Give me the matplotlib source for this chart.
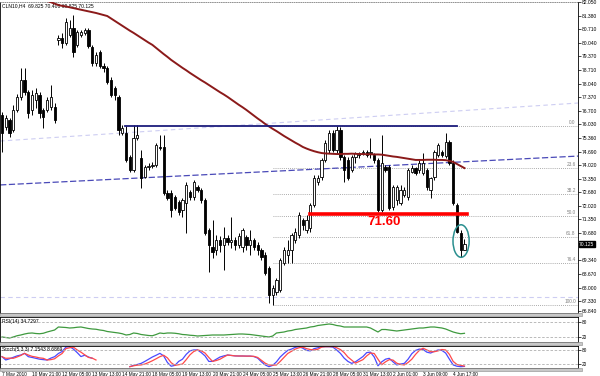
import numpy as np
import matplotlib.pyplot as plt
from matplotlib.patches import Rectangle, Ellipse

plt.rcParams['font.family'] = ['Liberation Sans', 'DejaVu Sans']

# ---- candles (CLN10, H4) ----
o = [76.49, 75.90, 76.25, 75.75, 76.74, 77.38, 78.21, 77.62, 76.74, 77.23,
     77.48, 76.74, 76.74, 76.89, 76.89, 80.18, 80.28, 80.03, 80.43, 80.77,
     79.94, 80.43, 80.53, 80.67, 79.84, 79.05, 79.59, 78.90, 78.80, 78.21,
     77.82, 77.38, 75.61, 75.61, 74.43, 73.79, 75.36, 74.38, 73.44, 73.93,
     73.98, 74.03, 74.92, 74.92, 72.65, 72.65, 72.46, 72.21, 71.82, 72.16,
     72.70, 72.46, 72.95, 72.80, 72.31, 70.83, 70.00, 69.85, 70.34, 70.10,
     70.44, 70.24, 70.34, 70.10, 70.00, 70.49, 70.10, 70.34, 70.10, 69.85,
     69.60, 68.96, 67.64, 67.78, 67.88, 69.21, 69.60, 69.85, 70.34, 70.59,
     71.33, 70.83, 70.93, 72.06, 73.20, 73.44, 74.28, 74.77, 75.61, 74.77,
     75.75, 74.43, 74.28, 73.79, 74.43, 74.52, 74.62, 74.67, 74.62, 74.52,
     74.28, 71.82, 73.93, 73.93, 71.97, 72.31, 72.16, 72.56, 72.46, 73.69,
     73.88, 73.79, 73.64, 73.79, 72.80, 73.44, 74.52, 74.67, 74.47, 75.16,
     74.13, 72.06, 70.69, 69.825]
h = [76.64, 76.49, 76.34, 76.98, 77.53, 78.80, 78.80, 77.72, 77.72, 77.82,
     77.62, 76.84, 77.38, 77.97, 77.08, 80.43, 80.53, 81.26, 81.17, 81.41,
     80.67, 80.67, 80.77, 80.77, 79.94, 79.59, 79.69, 79.05, 78.90, 78.36,
     77.92, 77.48, 76.00, 75.95, 74.52, 76.00, 76.00, 74.77, 74.03, 74.13,
     74.18, 75.11, 75.51, 75.51, 72.80, 72.80, 72.56, 72.31, 72.41, 73.20,
     72.80, 73.29, 73.05, 72.90, 72.41, 70.93, 71.33, 70.59, 70.54, 70.98,
     70.59, 71.47, 70.49, 70.69, 70.93, 70.59, 70.83, 70.44, 70.24, 69.95,
     69.75, 69.06, 68.13, 68.47, 69.46, 70.00, 70.34, 70.69, 70.93, 71.72,
     71.42, 71.57, 72.16, 73.54, 73.54, 74.38, 75.26, 75.75, 75.75, 75.95,
     75.90, 74.52, 74.43, 74.52, 74.67, 74.67, 74.77, 74.77, 75.36, 74.62,
     74.38, 75.51, 74.03, 74.03, 73.05, 73.05, 73.05, 72.95, 73.88, 74.03,
     73.93, 74.28, 74.62, 73.88, 73.44, 74.77, 75.11, 74.77, 75.61, 75.26,
     74.28, 72.16, 70.83, 70.40]
l = [74.67, 75.75, 75.41, 75.66, 76.64, 77.23, 77.48, 76.34, 76.49, 76.84,
     76.34, 75.85, 76.64, 76.74, 76.10, 79.94, 79.79, 79.94, 80.33, 79.35,
     79.84, 80.33, 80.43, 79.79, 78.90, 78.90, 78.80, 78.61, 78.02, 77.38,
     77.23, 75.51, 75.51, 74.18, 73.69, 73.69, 75.26, 72.90, 73.39, 73.79,
     73.88, 73.93, 74.77, 72.56, 72.31, 71.47, 71.82, 71.57, 71.47, 70.69,
     72.31, 72.31, 72.70, 72.16, 70.59, 68.77, 69.46, 69.60, 69.75, 68.87,
     70.10, 69.95, 69.85, 69.95, 69.75, 69.85, 69.60, 69.85, 69.60, 69.36,
     68.62, 67.24, 67.14, 67.64, 67.78, 69.11, 69.21, 69.21, 70.19, 70.44,
     70.83, 70.69, 70.74, 71.97, 73.05, 73.29, 74.18, 74.62, 74.67, 74.62,
     74.28, 73.20, 73.29, 73.69, 74.13, 74.38, 74.52, 74.43, 74.38, 74.13,
     71.72, 71.72, 73.69, 71.82, 71.82, 72.06, 72.06, 72.46, 72.31, 73.64,
     73.54, 73.64, 73.54, 72.80, 72.41, 73.29, 74.43, 74.43, 74.38, 74.03,
     72.06, 70.69, 69.51, 69.825]
c = [75.61, 76.34, 75.61, 76.74, 77.38, 78.21, 77.62, 76.59, 77.48, 77.57,
     76.59, 76.39, 77.23, 77.38, 76.25, 80.28, 80.03, 81.07, 80.77, 79.59,
     80.58, 80.58, 80.67, 79.89, 79.05, 79.44, 78.90, 78.80, 78.12, 77.48,
     77.48, 75.75, 75.85, 74.28, 73.79, 75.36, 75.51, 73.39, 73.93, 73.98,
     74.03, 75.02, 74.87, 72.65, 72.41, 71.82, 71.92, 71.72, 72.31, 73.05,
     72.46, 73.20, 72.80, 72.31, 70.69, 70.10, 69.75, 70.34, 70.10, 70.44,
     70.24, 70.34, 70.10, 70.54, 70.83, 70.10, 70.34, 70.00, 69.85, 69.51,
     68.72, 67.64, 67.98, 68.37, 69.36, 69.85, 69.85, 70.59, 70.74, 71.57,
     71.08, 71.33, 72.06, 73.39, 73.39, 74.28, 75.11, 75.61, 74.77, 75.75,
     74.43, 73.79, 73.39, 74.43, 74.62, 74.62, 74.67, 74.52, 74.67, 74.28,
     71.82, 74.13, 73.79, 71.92, 72.95, 72.95, 72.80, 72.80, 73.79, 73.88,
     73.64, 74.13, 74.13, 72.95, 73.39, 74.67, 75.02, 74.52, 75.16, 74.13,
     72.16, 70.74, 69.825, 70.125]

# moving average as shown on the chart
ma = [82.89, 82.82, 82.75, 82.68, 82.61, 82.54, 82.47, 82.41, 82.34, 82.27,
      82.20, 82.15, 82.10, 82.04, 81.97, 81.90, 81.86, 81.83, 81.79, 81.75,
      81.71, 81.67, 81.63, 81.59, 81.55, 81.51, 81.46, 81.41, 81.36, 81.24,
      81.12, 81.00, 80.88, 80.76, 80.64, 80.53, 80.41, 80.29, 80.17, 80.05,
      79.94, 79.79, 79.64, 79.49, 79.35, 79.20, 79.07, 78.94, 78.81, 78.69,
      78.56, 78.44, 78.32, 78.20, 78.09, 77.97, 77.85, 77.73, 77.61, 77.50,
      77.38, 77.25, 77.12, 76.99, 76.87, 76.74, 76.60, 76.46, 76.32, 76.19,
      76.05, 75.93, 75.81, 75.70, 75.58, 75.46, 75.35, 75.24, 75.13, 75.03,
      74.92, 74.84, 74.77, 74.71, 74.66, 74.62, 74.60, 74.59, 74.58, 74.57,
      74.57, 74.58, 74.58, 74.59, 74.58, 74.57, 74.57, 74.56, 74.56, 74.55,
      74.55, 74.54, 74.51, 74.48, 74.45, 74.43, 74.40, 74.37, 74.34, 74.31,
      74.28, 74.28, 74.28, 74.29, 74.29, 74.29, 74.28, 74.28, 74.27, 74.23,
      74.18, 74.08, 73.98, 73.88]

rsi = [20, 18, 16, 20, 25, 28, 32, 35, 36, 34,
       33, 35, 40, 44, 48, 60, 59, 58, 56, 57,
       59, 60, 57, 54, 52, 51, 48, 46, 42, 40,
       38, 36, 33, 28, 30, 36, 34, 30, 28, 26,
       25, 30, 36, 34, 36, 36, 35, 33, 30, 29,
       27, 26, 24, 25, 26, 27, 28, 28, 28, 28,
       29, 30, 31, 32, 32, 31, 30, 28, 26, 24,
       22, 20, 24, 36, 38, 40, 44, 46, 50, 52,
       54, 56, 60, 62, 66, 68, 70, 72, 70, 66,
       64, 60, 60, 60, 60, 60, 60, 60, 56, 48,
       40, 50, 50, 48, 46, 44, 46, 48, 50, 52,
       54, 56, 56, 58, 60, 60, 58, 56, 52, 46,
       40, 36, 33, 34.73]

nan = np.nan
stoch_k = [51.5, 36.4, 42, 48.5, 55, 59, 66.7, 51.5, 48, 44,
           40, 38, 36.4, 45, 51.5, 66, 75, 95, 97, 86,
           70, 52, 58, 50, 44, nan, nan, nan, nan, nan,
           nan, nan, nan, nan, 6, 12, 16, 21, 30, 40,
           50, 58, 66.7, 55, 25, 8, 12, 30, 40, 62,
           78, 82, 82, 70, 55, 30, 30, 40, 50, 55,
           59, 57, 55, 54.5, 54.5, 54, 54, 52, 45, 28,
           14, 6, 12, 28, 50, 66, 80, 86, 94, 97,
           90, 80, 78, 88, 92, 97, 97, 97, 95, 82,
           66.7, 45, 30, 21, 28, 40, 52, 70, 72, 50,
           10, 28, 40, 44, 28, 14, 18, 21, 40, 65,
           80, 86, 84, 72, 68, 76, 82, 80, 68, 40,
           14, 8, 6, 7.15]
stoch_d = [51.5, 44, 45, 44, 50, 57, 66.7, 59, 53, 50,
           46, 44, 36.4, 38, 42, 55, 66, 88, 92, 95,
           82, 72, 60, 48, 45, 36.4, nan, nan, nan, nan,
           nan, nan, nan, nan, 6, 10, 13, 14, 18, 25,
           33, 42, 51.5, 58, 46, 24, 12, 15, 18, 38,
           60, 75, 82, 78, 68, 48, 30, 34, 40, 50,
           59, 57, 55, 54.5, 54.5, 54, 54, 53, 48, 35,
           22, 13.6, 13, 13.6, 30, 48, 66, 76, 86, 92,
           95, 88, 84, 82, 85, 95, 97, 97, 98, 92,
           84, 70, 50, 36, 22, 30, 38, 55, 68, 66,
           40, 15, 28, 38, 36, 22, 16, 14, 25, 40,
           62, 80, 90, 82, 74, 74, 78, 84, 82, 62,
           30, 16, 12, 8.69]

tick_idx = [0, 8, 16, 24, 32, 40, 48, 56, 64, 72, 80, 88, 96, 104, 112, 120]
tick_labels = ['7 May 2010', '10 May 21:00', '12 May 05:00', '13 May 13:00',
               '14 May 21:00', '18 May 05:00', '19 May 13:00', '20 May 21:00',
               '24 May 05:00', '25 May 13:00', '26 May 21:00', '28 May 05:00',
               '31 May 13:00', '2 Jun 01:00', '3 Jun 09:00', '4 Jun 17:00']
price_ticks = [82.050, 81.380, 80.710, 80.040, 79.370, 78.710, 78.040, 77.370,
               76.700, 76.030, 75.360, 74.690, 74.020, 73.350, 72.680, 72.020,
               71.350, 70.680, 69.340, 68.670, 68.000, 67.330, 66.840]

fib_high, fib_low = 75.95, 67.14
fib_levels = [0.0, 23.6, 38.2, 50.0, 61.8, 76.4, 100.0]
fib_start = 72
resist = (32.7, 121.0, 75.95)        # x0, x1, price
support = (81.9, 123.7, 71.60)
trend_blue = ([-0.5, 153.2], [73.05, 74.47])
trend_faint = ([-0.5, 153.2], [75.21, 77.08])
faint_level = 67.54
last_price = 70.125

W, H = 600, 376
fig = plt.figure(figsize=(6, 3.76), dpi=100)
fig.patch.set_facecolor('white')
xr = 578 / W
x = np.arange(len(c))
xlim = (-0.53, 153.2)
fs = 3.6

ax = fig.add_axes([0, 1 - 313 / H, xr, 311 / H])
ax_rsi = fig.add_axes([0, 1 - 342 / H, xr, 25 / H])
ax_st = fig.add_axes([0, 1 - 368 / H, xr, 22 / H])

# ---- main price window ----
o_, h_, l_, c_ = map(np.array, (o, h, l, c))
up = c_ >= o_
ax.vlines(x, l_, h_, color='black', lw=0.7, zorder=3)
body = np.maximum(np.abs(c_ - o_), 0.02)
ax.bar(x[up], body[up], bottom=o_[up], width=0.6, color='white',
       edgecolor='black', lw=0.6, zorder=4)
ax.bar(x[~up], body[~up], bottom=c_[~up], width=0.6, color='black',
       edgecolor='black', lw=0.6, zorder=4)

ax.plot(x, ma, color='#8b1a1a', lw=1.4, zorder=5)

ax.plot(*trend_blue, color='#4a4ab8', lw=0.9, dashes=(5, 2), zorder=2)
ax.plot(*trend_faint, color='#cdcdf2', lw=0.8, dashes=(4, 3), zorder=1)
ax.axhline(faint_level, color='#cdcdf2', lw=0.8, dashes=(4, 3), zorder=1)

for lv in fib_levels:
    p = fib_high - (fib_high - fib_low) * lv / 100
    ax.plot([fib_start, xlim[1]], [p, p], color='#909090', lw=0.6,
            ls=(0, (1, 1.5)), zorder=1)
    ax.text(152.6, p + 0.05, f'{lv:.1f}', fontsize=3.4, color='#808080',
            ha='right', va='bottom')

ax.plot(resist[:2], [resist[2]] * 2, color='#1c1c7c', lw=1.3, zorder=6)
ax.plot(support[:2], [support[2]] * 2, color='#ff0000', lw=2.6, zorder=6)
ax.text(101.6, 71.22, '71.60', color='#ff0000', fontsize=9.5,
        fontweight='bold', ha='center', va='center', zorder=7)
ax.add_patch(Ellipse((122.1, 70.29), 4.3, 1.6, fill=False,
                     edgecolor='#2a8f8f', lw=1.1, zorder=7))

ax.text(0.004, 0.995, 'CLN10,H4  69.825 70.400 69.825 70.125',
        transform=ax.transAxes, fontsize=fs, va='top', ha='left')

ax.set_xlim(*xlim)
ax.set_ylim(66.75, 82.05)
ax.yaxis.tick_right()
ax.set_yticks(price_ticks)
ax.set_yticklabels([f'{t:.3f}' for t in price_ticks], fontsize=fs)
ax.tick_params(axis='y', length=2, pad=0.8, width=0.5)
ax.set_xticks([])
ax.text(1.002, last_price, f'{last_price:.3f}', transform=ax.get_yaxis_transform(),
        fontsize=fs, color='white', va='center', ha='left',
        bbox=dict(boxstyle='square,pad=0.1', fc='black', ec='black'))

# ---- RSI window ----
ax_rsi.plot(x, rsi, color='#3f9a3f', lw=0.9)
for lv in (80, 20):
    ax_rsi.axhline(lv, color='#b0b0b0', lw=0.6, dashes=(3, 2))
ax_rsi.set_ylim(0, 100)
ax_rsi.set_xlim(*xlim)
ax_rsi.yaxis.tick_right()
ax_rsi.set_yticks([80, 20])
ax_rsi.set_yticklabels(['80', '20'], fontsize=3.4)
ax_rsi.tick_params(axis='y', length=2, pad=0.8, width=0.5)
ax_rsi.set_xticks([])
ax_rsi.text(0.004, 0.93, 'RSI(14) 34.7297', transform=ax_rsi.transAxes,
            fontsize=fs, va='top')

# ---- Stochastic window ----
ax_st.plot(x, stoch_k, color='#4a4aff', lw=0.9)
ax_st.plot(x, stoch_d, color='#ff4a4a', lw=0.9)
for lv in (80, 20):
    ax_st.axhline(lv, color='#b0b0b0', lw=0.6, dashes=(3, 2))
ax_st.set_ylim(0, 100)
ax_st.set_xlim(*xlim)
ax_st.yaxis.tick_right()
ax_st.set_yticks([80, 20])
ax_st.set_yticklabels(['80', '20'], fontsize=3.4)
ax_st.tick_params(axis='y', length=2, pad=0.8, width=0.5)
ax_st.set_xticks(tick_idx)
ax_st.set_xticklabels(tick_labels, fontsize=3.4, ha='left')
ax_st.tick_params(axis='x', length=2, pad=0.8, width=0.5)
ax_st.text(0.004, 0.95, 'Stoch(5,3,3) 7.1543 8.6869', transform=ax_st.transAxes,
           fontsize=fs, va='top')

for a in (ax, ax_rsi, ax_st):
    for s in a.spines.values():
        s.set_linewidth(0.6)
ax.spines['top'].set_linestyle(':')
ax.spines['top'].set_color('#808080')

# panel separators
for y0 in (313, 342, 368):
    fig.add_artist(Rectangle((0, 1 - (y0 + 3) / H), 582 / W, 3 / H,
                             transform=fig.transFigure, fc='#c8c8c8',
                             ec='#8a8a8a', lw=0.4))

fig.savefig('out.png', dpi=100)
